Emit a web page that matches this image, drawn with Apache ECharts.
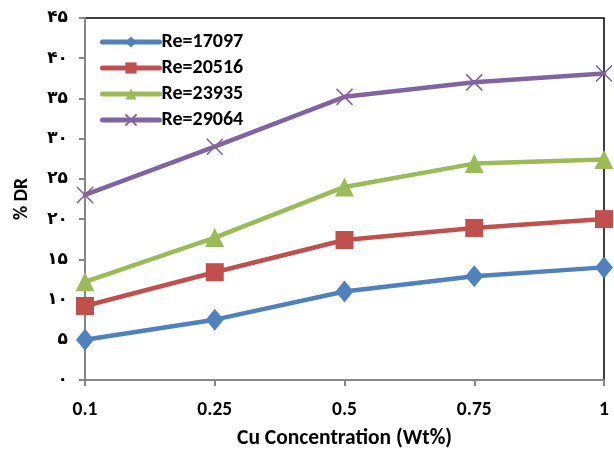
<!DOCTYPE html>
<html>
<head>
<meta charset="utf-8">
<script src="https://cdn.jsdelivr.net/npm/echarts@6/dist/echarts.min.js"></script>
<style>
  html, body { margin: 0; padding: 0; background: #fff; }
  #chart { width: 614px; height: 450px; }
</style>
</head>
<body>
<div id="chart"></div>
<script>
// Copper concentration (Wt%) on the x axis
const concentrations = ['0.1', '0.25', '0.5', '0.75', '1'];

// Drag reduction (%) for each Reynolds number
const re17097 = [5.0, 7.5, 11.0, 12.9, 14.0];
const re20516 = [9.2, 13.4, 17.4, 18.9, 20.0];
const re23935 = [12.2, 17.7, 24.0, 26.9, 27.4];
const re29064 = [23.0, 29.0, 35.2, 37.0, 38.1];

const seriesNames = ['Re=17097', 'Re=20516', 'Re=23935', 'Re=29064'];

// Y-axis tick labels in Persian digits
const yTickLabels = {
  0: '۰', 5: '۵', 10: '۱۰', 15: '۱۵', 20: '۲۰',
  25: '۲۵', 30: '۳۰', 35: '۳۵', 40: '۴۰', 45: '۴۵'
};

const colors = ['#4F81BD', '#C0504D', '#9BBB59', '#8064A2'];
const crossSymbol = 'path://M0,0L10,10M10,0L0,10';
const labelFont = "Carlito, 'Open Sans', sans-serif";

function makeSeries(name, data, color, symbol, size, extraItem) {
  return {
    name: name,
    type: 'line',
    data: data,
    symbol: symbol,
    symbolSize: size,
    showSymbol: true,
    lineStyle: { color: color, width: 4.5, cap: 'round' },
    itemStyle: Object.assign({ color: color }, extraItem || {}),
    z: 3
  };
}

const chart = echarts.init(document.getElementById('chart'));
chart.setOption({
  animation: false,
  backgroundColor: '#ffffff',
  grid: {
    left: 85, right: 10, top: 18, bottom: 70,
    containLabel: false,
    outerBoundsMode: 'none',
    show: true, borderColor: '#000000', borderWidth: 1.5
  },
  legend: {
    orient: 'vertical',
    left: 95,
    top: 27,
    itemWidth: 57,
    itemHeight: 14,
    itemGap: 6,
    lineStyle: { width: 5, cap: 'round' },
    textStyle: { fontFamily: labelFont, fontWeight: 'bold', fontSize: 20, color: '#000', padding: [0, 0, 0, -3] },
    data: seriesNames
  },
  xAxis: {
    type: 'category',
    boundaryGap: false,
    data: concentrations,
    name: 'Cu Concentration (Wt%)',
    nameLocation: 'middle',
    nameGap: 48,
    nameTextStyle: { fontFamily: labelFont, fontWeight: 'bold', fontSize: 21.5, color: '#000' },
    axisLine: { lineStyle: { color: '#868686', width: 2 } },
    axisTick: { show: true, inside: false, length: 6, lineStyle: { color: '#868686', width: 2 } },
    axisLabel: { margin: 20, fontFamily: labelFont, fontWeight: 'bold', fontSize: 19.5, color: '#000' },
    splitLine: { show: false }
  },
  yAxis: {
    type: 'value',
    min: 0,
    max: 45,
    interval: 5,
    name: '% DR',
    nameLocation: 'middle',
    nameGap: 53,
    nameRotate: 90,
    nameTextStyle: { fontFamily: labelFont, fontWeight: 'bold', fontSize: 19.5, color: '#000' },
    axisLine: { show: true, lineStyle: { color: '#868686', width: 2 } },
    axisTick: { show: true, inside: false, length: 6, lineStyle: { color: '#868686', width: 2 } },
    axisLabel: {
      margin: 17,
      fontFamily: 'DejaVu Sans',
      fontWeight: 'bold',
      fontSize: 17,
      color: '#000',
      formatter: function (v) { return yTickLabels[v] !== undefined ? yTickLabels[v] : ''; }
    },
    splitLine: { show: false }
  },
  series: [
    makeSeries(seriesNames[0], re17097, colors[0], 'diamond', [18, 22]),
    makeSeries(seriesNames[1], re20516, colors[1], 'rect', 18),
    makeSeries(seriesNames[2], re23935, colors[2], 'triangle', 19),
    makeSeries(seriesNames[3], re29064, colors[3], crossSymbol, 16,
      { borderColor: colors[3], borderWidth: 1.6 })
  ]
});
</script>
</body>
</html>
